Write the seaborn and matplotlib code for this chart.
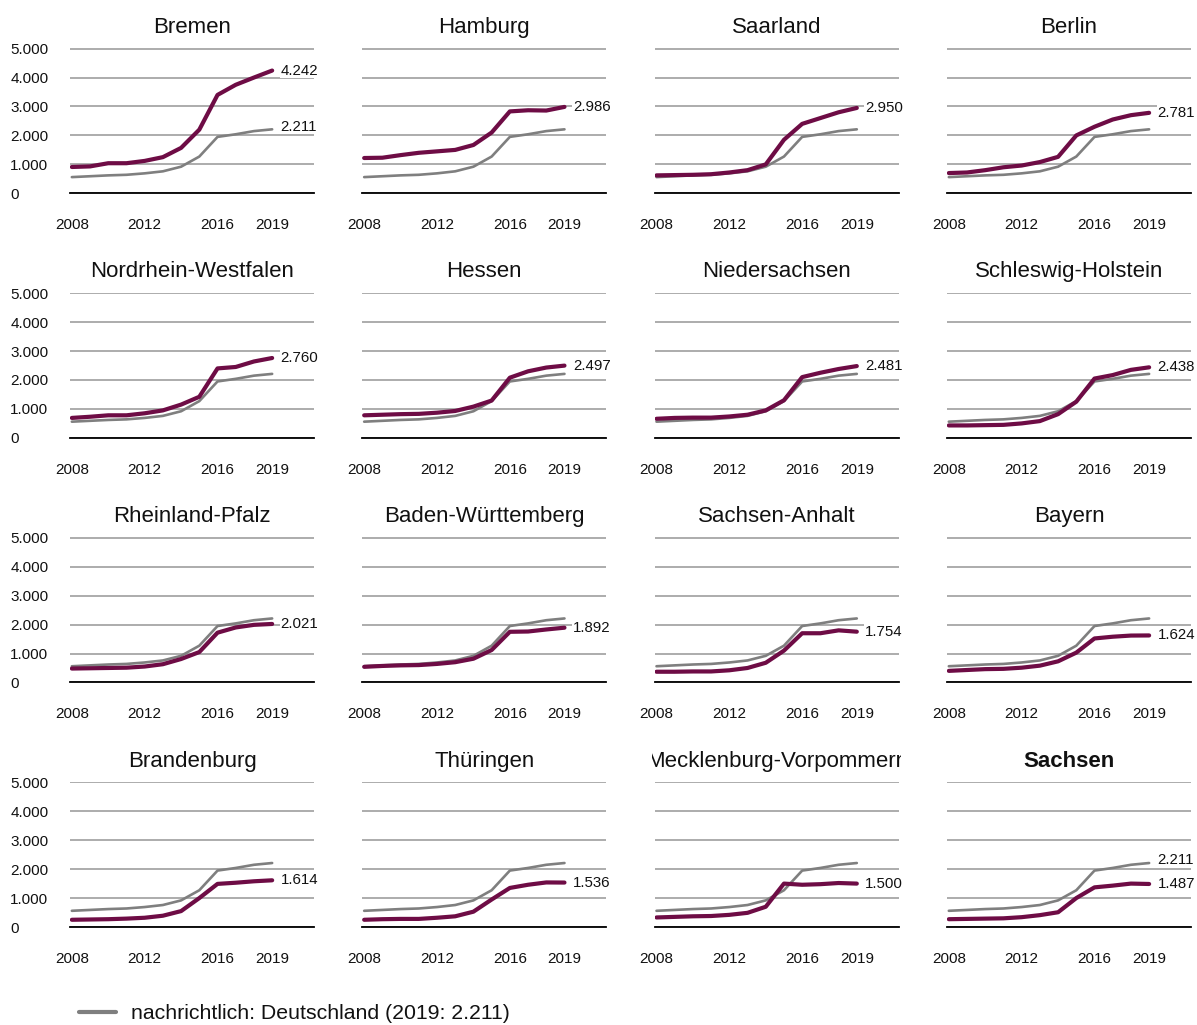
import matplotlib.pyplot as plt
import seaborn as sns
import pandas as pd
from matplotlib.lines import Line2D
from matplotlib.transforms import Bbox, TransformedBbox

years = list(range(2008, 2020))
deutschland = [560, 590, 620, 640, 690, 760, 920, 1270, 1950, 2040, 2150, 2211]

# values per Bundesland
bremen = [910, 930, 1040, 1040, 1120, 1250, 1570, 2200, 3400, 3750, 4000, 4242]
hamburg = [1220, 1230, 1320, 1400, 1450, 1500, 1670, 2100, 2830, 2870, 2860, 2986]
saarland = [620, 630, 640, 660, 720, 800, 1000, 1850, 2400, 2600, 2800, 2950]
berlin = [700, 720, 800, 900, 960, 1080, 1260, 2000, 2300, 2550, 2700, 2781]
nrw = [690, 730, 780, 780, 850, 950, 1150, 1420, 2400, 2450, 2640, 2760]
hessen = [780, 800, 820, 830, 870, 930, 1080, 1290, 2080, 2300, 2430, 2497]
niedersachsen = [660, 690, 700, 700, 740, 800, 950, 1300, 2100, 2250, 2380, 2481]
schleswig_holstein = [430, 430, 440, 450, 500, 580, 820, 1250, 2050, 2170, 2350, 2438]
rheinland_pfalz = [480, 490, 500, 510, 550, 630, 810, 1050, 1720, 1900, 1990, 2021]
baden_wuerttemberg = [540, 570, 590, 600, 640, 700, 820, 1120, 1750, 1760, 1830, 1892]
sachsen_anhalt = [370, 370, 380, 380, 420, 500, 680, 1100, 1700, 1700, 1800, 1754]
bayern = [400, 430, 460, 470, 510, 580, 730, 1030, 1520, 1580, 1620, 1624]
brandenburg = [250, 260, 270, 290, 320, 390, 550, 1000, 1490, 1530, 1580, 1614]
thueringen = [250, 270, 280, 280, 320, 370, 530, 950, 1350, 1460, 1540, 1536]
mecklenburg_vp = [330, 350, 370, 380, 420, 490, 700, 1500, 1460, 1480, 1520, 1500]
sachsen = [270, 280, 290, 300, 340, 410, 510, 1000, 1370, 1430, 1500, 1487]

state_names = ['Bremen', 'Hamburg', 'Saarland', 'Berlin',
               'Nordrhein-Westfalen', 'Hessen', 'Niedersachsen', 'Schleswig-Holstein',
               'Rheinland-Pfalz', 'Baden-Württemberg', 'Sachsen-Anhalt', 'Bayern',
               'Brandenburg', 'Thüringen', 'Mecklenburg-Vorpommern', 'Sachsen']
state_values = [bremen, hamburg, saarland, berlin,
                nrw, hessen, niedersachsen, schleswig_holstein,
                rheinland_pfalz, baden_wuerttemberg, sachsen_anhalt, bayern,
                brandenburg, thueringen, mecklenburg_vp, sachsen]
show_de_label = ['Bremen', 'Sachsen']

yticks = [0, 1000, 2000, 3000, 4000, 5000]
ytick_labels = ['0', '1.000', '2.000', '3.000', '4.000', '5.000']
xticks = [2008, 2012, 2016, 2019]

PURPLE = '#6e0c45'
GREY = '#7f7f7f'
TEXT = '#111111'

sns.set_style('white')
plt.rcParams['font.family'] = ['Liberation Sans', 'DejaVu Sans']
plt.rcParams['text.color'] = TEXT
plt.rcParams['xtick.color'] = TEXT
plt.rcParams['ytick.color'] = TEXT


def fmt(v):
    return f'{v:,}'.replace(',', '.')


fig, axes = plt.subplots(4, 4, figsize=(11.97, 10.25), dpi=100)
fig.subplots_adjust(left=0.0585, right=0.995, top=0.953, bottom=0.0956,
                    wspace=0.198, hspace=0.685)

for i, (ax, name, vals) in enumerate(zip(axes.flat, state_names, state_values)):
    df = pd.DataFrame({'Jahr': years, 'DE': deutschland, 'Land': vals})
    sns.lineplot(data=df, x='Jahr', y='DE', ax=ax, color=GREY, linewidth=1.9, zorder=3)
    sns.lineplot(data=df, x='Jahr', y='Land', ax=ax, color=PURPLE, linewidth=3.0, zorder=4)

    ax.set_xlim(2007.9, 2021.3)
    ax.set_ylim(0, 5015)
    ax.set_yticks(yticks)
    ax.set_xticks(xticks)
    ax.grid(axis='y', color='#a6a6a6', linewidth=1.3)
    ax.grid(axis='x', visible=False)
    ax.set_axisbelow(True)
    for s in ['top', 'right', 'left']:
        ax.spines[s].set_visible(False)
    ax.spines['bottom'].set_color('black')
    ax.spines['bottom'].set_linewidth(1.3)
    ax.set_xlabel('')
    ax.set_ylabel('')
    ax.tick_params(axis='both', length=0)
    ax.tick_params(axis='x', labelsize=11, pad=18)
    if i % 4 == 0:
        ax.set_yticklabels(ytick_labels)
        ax.tick_params(axis='y', labelsize=11, pad=43)
        for lab in ax.get_yticklabels():
            lab.set_horizontalalignment('left')
    else:
        ax.set_yticklabels([])

    weight = 'bold' if name == 'Sachsen' else 'normal'
    title = ax.set_title(name, fontsize=16, fontweight=weight, pad=11)
    # long titles get cut at the panel edges, like in the original
    title.set_clip_box(TransformedBbox(Bbox([[-0.012, 0], [1.008, 2]]), ax.transAxes))
    title.set_clip_on(True)

    ax.annotate(fmt(vals[-1]), xy=(years[-1], vals[-1]), xytext=(6, 0),
                textcoords='offset points', va='center', ha='left', fontsize=10.8,
                zorder=5, bbox=dict(facecolor='white', edgecolor='none', pad=0.5))
    if name in show_de_label:
        ax.annotate(fmt(deutschland[-1]), xy=(years[-1], deutschland[-1]), xytext=(6, 2),
                    textcoords='offset points', va='center', ha='left', fontsize=10.8,
                    zorder=5, bbox=dict(facecolor='white', edgecolor='none', pad=0.5))

handle = Line2D([], [], color=GREY, linewidth=3)
fig.legend(handles=[handle], labels=['nachrichtlich: Deutschland (2019: 2.211)'],
           loc='center left', bbox_to_anchor=(0.05, 0.011), frameon=False,
           fontsize=15.3, handlelength=1.75, handletextpad=0.7)

fig.savefig('out.png', dpi=100)
